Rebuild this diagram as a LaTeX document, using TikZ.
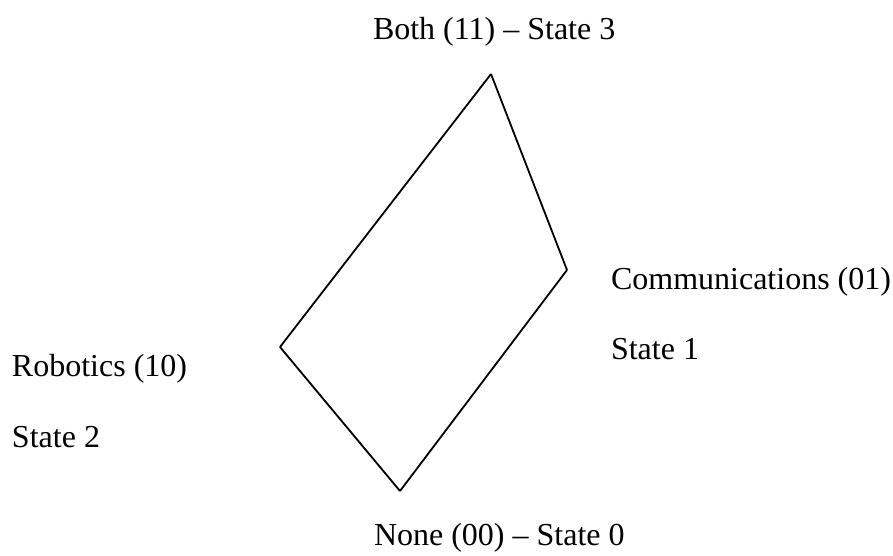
\documentclass[tikz,border=0pt]{standalone}
\usepackage{fontspec}
\setmainfont{Liberation Serif}
\begin{document}
\begin{tikzpicture}[x=1pt,y=-1pt,
  lbl/.style={anchor=base west,inner sep=0pt,outer sep=0pt,font=\fontsize{32}{38}\selectfont},
  edge/.style={draw=black,line width=1.8pt,line join=miter}]
\useasboundingbox (0,0) rectangle (893,555);
\coordinate (top) at (491,74);
\coordinate (right) at (567,270);
\coordinate (bottom) at (400,491);
\coordinate (left) at (280,347);
\draw[edge] (top) -- (right);
\draw[edge] (right) -- (bottom);
\draw[edge] (bottom) -- (left);
\draw[edge] (left) -- (top);
\node[lbl] (both) at (373,39) {Both (11) – State 3};
\node[lbl] (comm) at (611,289) {Communications (01)};
\node[lbl] (s1) at (611,359) {State 1};
\node[lbl] (rob) at (12,376) {Robotics (10)};
\node[lbl] (s2) at (12,447) {State 2};
\node[lbl] (none) at (374,545) {None (00) – State 0};
\end{tikzpicture}
\end{document}
